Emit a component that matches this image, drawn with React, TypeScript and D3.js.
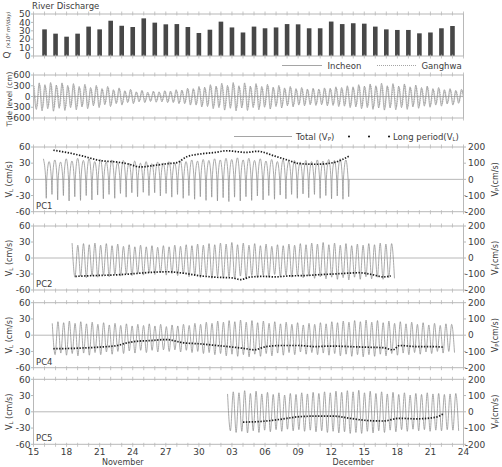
import React from "react";
import * as d3 from "d3";

// day index 0 = 15 November, 39 = 24 December
const dayTickLabels = ["15", "18", "21", "24", "27", "30", "03", "06", "09", "12", "15", "18", "21", "24"];
const monthLabels = ["November", "December"];
const monthCenters = [8.1, 29];

// river discharge (x10^6 m3/day), one bar per day, 16 Nov .. 23 Dec
const dischargeDay = d3.range(1, 39);
const discharge = [
  31.7, 26.6, 23, 26.6, 35, 31.7, 42, 36, 34.5, 44.8, 39.7, 37.7, 38, 34.5, 27.4, 31.3, 40.9, 34, 28,
  35, 33, 34, 38, 37.7, 33, 33, 41, 38, 39, 38.5, 35, 31.7, 31, 31, 27, 28, 33, 35.7,
];

// tide level (cm): successive high / low waters
const incheonHigh = [
  340, 380, 330, 390, 320, 380, 310, 360, 280, 340, 250, 310, 220, 280, 190, 240, 160, 200, 130, 170,
  120, 150, 130, 160, 150, 190, 180, 230, 220, 280, 260, 330, 290, 370, 310, 390, 300, 380, 290, 360,
  280, 340, 260, 310, 240, 280, 220, 250, 210, 230, 210, 240, 230, 270, 250, 300, 270, 330, 290, 350,
  300, 370, 300, 360, 290, 350, 270, 320, 250, 290, 220, 250, 190, 220, 170, 200,
];
const incheonLow = [
  -360, -400, -340, -410, -330, -390, -310, -370, -290, -340, -260, -310, -230, -280, -200, -240, -170, -200, -150, -170,
  -140, -160, -150, -170, -170, -200, -200, -240, -240, -290, -280, -340, -310, -380, -330, -400, -320, -390, -310, -370,
  -300, -350, -280, -320, -260, -290, -240, -260, -230, -250, -230, -260, -250, -280, -270, -310, -290, -340, -310, -360,
  -320, -380, -320, -370, -310, -360, -290, -330, -270, -300, -240, -270, -210, -240, -190, -210,
];
const ganghwaHigh = [
  290, 320, 280, 330, 270, 320, 260, 300, 240, 290, 210, 260, 190, 240, 160, 200, 140, 170, 110, 150,
  100, 130, 110, 140, 130, 160, 150, 200, 190, 240, 220, 280, 250, 310, 260, 330, 260, 320, 250, 300,
  240, 290, 220, 260, 200, 240, 190, 210, 180, 200, 180, 200, 200, 230, 210, 250, 230, 280, 250, 300,
  260, 310, 260, 300, 250, 300, 230, 270, 210, 250, 190, 210, 160, 190, 150, 170,
];
const ganghwaLow = [
  -280, -310, -270, -320, -260, -300, -240, -290, -230, -270, -200, -240, -180, -220, -160, -190, -140, -160, -120, -140,
  -110, -130, -120, -140, -140, -160, -160, -190, -190, -230, -220, -270, -250, -300, -260, -310, -250, -300, -240, -290,
  -240, -280, -220, -250, -210, -230, -190, -210, -180, -200, -180, -210, -200, -220, -210, -250, -230, -270, -250, -290,
  -250, -300, -250, -290, -240, -280, -230, -260, -210, -240, -190, -210, -170, -190, -150, -170,
];

// total current Vp (cm/s): successive flood peaks / ebb troughs
const pc1Peaks = [
  127, 110, 120, 107, 127, 113, 130, 117, 127, 110, 123, 107, 120, 103, 117, 100, 113, 100, 110, 97,
  107, 100, 110, 103, 113, 110, 120, 113, 123, 117, 127, 120, 130, 123, 133, 120, 130, 117, 127, 113,
  123, 110, 120, 110, 117, 107, 117, 110, 120, 113, 123, 117, 127, 120,
];
const pc1Troughs = [
  -117, -93, -127, -100, -133, -107, -130, -100, -127, -97, -120, -93, -117, -87, -110, -83, -107, -80, -100, -83,
  -103, -87, -110, -93, -117, -100, -123, -107, -130, -110, -133, -113, -137, -110, -133, -107, -130, -103, -127, -100,
  -123, -97, -120, -93, -117, -90, -113, -93, -117, -100, -120, -103, -123, -107,
];
const pc2Peaks = [
  93, 80, 90, 83, 93, 80, 90, 77, 87, 73, 83, 70, 80, 70, 77, 67, 77, 70, 80, 73,
  83, 77, 87, 80, 90, 83, 93, 87, 97, 83, 93, 80, 90, 77, 87, 73, 83, 77, 87, 80,
  90, 83, 93, 87, 97, 83, 93, 80, 90, 77, 87, 80, 90, 83, 93, 87, 90,
];
const pc2Troughs = [
  -120, -113, -123, -110, -120, -107, -117, -103, -113, -100, -110, -97, -107, -93, -103, -93, -107, -97, -110, -100,
  -117, -107, -123, -110, -127, -113, -127, -117, -130, -113, -127, -110, -123, -107, -120, -103, -117, -107, -120, -110,
  -123, -113, -127, -117, -130, -120, -133, -123, -137, -120, -133, -117, -130, -120, -133, -123, -127,
];
const pc4Peaks = [
  73, 83, 77, 87, 73, 83, 70, 80, 67, 77, 63, 73, 60, 70, 57, 67, 60, 70, 57, 67,
  53, 63, 57, 67, 60, 73, 67, 80, 73, 87, 80, 90, 83, 93, 80, 90, 77, 87, 73, 83,
  70, 80, 67, 77, 63, 73, 67, 77, 70, 83, 77, 87, 80, 90, 83, 93, 80, 90, 77, 87,
  73, 83, 70, 80, 67, 77, 63, 73, 60, 70, 67,
];
const pc4Troughs = [
  -120, -110, -123, -113, -127, -110, -123, -107, -120, -103, -117, -100, -113, -97, -110, -93, -107, -93, -103, -90,
  -100, -90, -103, -93, -107, -100, -113, -107, -120, -113, -127, -117, -130, -120, -133, -117, -130, -113, -127, -110,
  -123, -107, -120, -103, -117, -107, -120, -110, -123, -113, -127, -117, -130, -120, -133, -120, -130, -117, -127, -113,
  -123, -110, -120, -107, -117, -103, -113, -100, -110, -100, -107,
];
const pc5Peaks = [
  110, 123, 117, 130, 113, 127, 110, 120, 107, 117, 103, 113, 107, 117, 110, 120, 113, 123, 117, 127,
  120, 130, 123, 133, 117, 127, 113, 123, 110, 120, 107, 117, 103, 113, 107, 117, 110, 113, 107, 110, 113,
];
const pc5Troughs = [
  -117, -127, -120, -130, -117, -127, -113, -123, -110, -120, -107, -117, -110, -120, -113, -123, -117, -127, -120, -130,
  -123, -133, -127, -133, -120, -130, -117, -127, -113, -123, -110, -120, -107, -117, -110, -120, -113, -117, -110, -113, -117,
];

// long period current VL (cm/s)
const pc1VlDay = [1.8, 3, 4.5, 6, 7.6, 8.5, 9.7, 11, 12.1, 13, 13.9, 15.1, 16.5, 17.5, 19.3, 20.3, 21.9, 23, 24.2, 25.7, 27.2, 28.7];
const pc1Vl = [54, 50, 43, 35, 32, 29, 23, 26, 29, 31, 42, 47, 50, 53, 50, 52, 43, 36, 29, 28, 31, 44];
const pc2VlDay = [3.8, 5.5, 7.6, 9.1, 10.6, 12.1, 13.6, 15.2, 16.6, 18.1, 18.8, 19.6, 20.8, 21.9, 23.2, 24.5, 26, 27.2, 28.5, 29.5, 30.8, 31.7, 32.4];
const pc2Vl = [-34.5, -33, -31.5, -29.4, -27, -25.8, -28.5, -33.6, -36, -37.5, -40.5, -36, -34.5, -35.4, -33.6, -33, -31.2, -30, -28.5, -27.6, -31.5, -35.4, -33.6];
const pc4VlDay = [1.8, 4, 6, 7.6, 8.5, 9.5, 10.6, 12, 13.6, 15.1, 16.6, 18.1, 19.3, 20, 21.1, 22.6, 24, 25.6, 27, 28.6, 30, 31.7, 32.6, 33.2, 34.7, 36, 37.2];
const pc4Vl = [-25, -24, -22, -19, -14, -11, -10, -8, -14, -16, -19, -22, -25, -27, -21, -19, -19, -21, -20, -21, -22, -23, -27, -19, -21, -21, -22];
const pc5VlDay = [19, 20.5, 22, 23, 24.1, 25.5, 27.2, 28.7, 30.2, 31.7, 33.2, 34.7, 36.2, 36.8, 37.2];
const pc5Vl = [-19, -18, -15, -12, -9, -8, -8, -12, -16, -17, -12, -13, -11, -8, -3];

const leftTicks = [-60, -30, 0, 30, 60];
const rightTicks = [-200, -100, 0, 100, 200];
const tideTicks = [-600, -300, 0, 300, 600];
const qTicks = [0, 10, 20, 30, 40, 50];

// ---- layout ----
const W = 502, H = 467;
const X0 = 33.5, X1 = 463.5;
const PERIOD = 0.5175; // semidiurnal period (days)
const FONT = "'DejaVu Sans', Verdana, sans-serif";
const FRAME = "#b8b8b8";
const TXT = "#3c3c3c";
const OSC = "#8e8e8e";

const x = d3.scaleLinear().domain([0, 39]).range([X0, X1]);
const days = d3.range(0, 40);

// peaks and troughs placed half a period apart; "spiky" records (PC1) have a short ebb
// phase, so the slack-water crossings are placed close around each trough
function oscPoints(start: number, highs: number[], lows: number[], spiky = false) {
  const pts: [number, number][] = [];
  const n = Math.min(highs.length, lows.length);
  for (let i = 0; i < n; i++) {
    const t = start + i * PERIOD;
    pts.push([t, highs[i]]);
    if (spiky) {
      pts.push([t + 0.4 * PERIOD, 0]);
      pts.push([t + 0.5 * PERIOD, lows[i]]);
      pts.push([t + 0.58 * PERIOD, 0]);
    } else {
      pts.push([t + 0.5 * PERIOD, lows[i]]);
    }
  }
  return pts;
}

function DayTicks({ top, bottom }: { top: number; bottom: number }) {
  return (
    <g stroke={FRAME} strokeWidth={0.8}>
      {days.map((d) => (
        <g key={d}>
          <line x1={x(d)} x2={x(d)} y1={top - 2.5} y2={top + 1.5} />
          <line x1={x(d)} x2={x(d)} y1={bottom - 1.5} y2={bottom + 2.5} />
        </g>
      ))}
    </g>
  );
}

function LeftAxis({ scale, ticks }: { scale: d3.ScaleLinear<number, number>; ticks: number[] }) {
  return (
    <g>
      {ticks.map((t) => (
        <g key={t}>
          <line x1={X0 - 2.5} x2={X0} y1={scale(t)} y2={scale(t)} stroke={FRAME} />
          <text x={X0 - 3} y={scale(t)} dy="0.36em" textAnchor="end" fontSize={9} fill={TXT}>{String(t)}</text>
        </g>
      ))}
    </g>
  );
}

function RightAxis({ scale, ticks }: { scale: d3.ScaleLinear<number, number>; ticks: number[] }) {
  return (
    <g>
      {ticks.map((t) => (
        <g key={t}>
          <line x1={X1} x2={X1 + 2.5} y1={scale(t)} y2={scale(t)} stroke={FRAME} />
          <text x={X1 + 4.5 - (t < 0 ? 3.3 : 0)} y={scale(t)} dy="0.36em" textAnchor="start" fontSize={9} fill={TXT}>{String(t)}</text>
        </g>
      ))}
    </g>
  );
}

const pcPanels = [
  { name: "PC1", top: 147, bottom: 211.7, start: 0.9, spiky: true, peaks: pc1Peaks, troughs: pc1Troughs, vlDay: pc1VlDay, vl: pc1Vl },
  { name: "PC2", top: 226, bottom: 290, start: 3.5, spiky: false, peaks: pc2Peaks, troughs: pc2Troughs, vlDay: pc2VlDay, vl: pc2Vl },
  { name: "PC4", top: 302.7, bottom: 367.7, start: 1.7, spiky: false, peaks: pc4Peaks, troughs: pc4Troughs, vlDay: pc4VlDay, vl: pc4Vl },
  { name: "PC5", top: 379.3, bottom: 444.3, start: 17.6, spiky: false, peaks: pc5Peaks, troughs: pc5Troughs, vlDay: pc5VlDay, vl: pc5Vl },
];

function PcPanel({ p, last }: { p: (typeof pcPanels)[number]; last: boolean }) {
  const yl = d3.scaleLinear().domain([-60, 60]).range([p.bottom, p.top]);
  const yr = d3.scaleLinear().domain([-200, 200]).range([p.bottom, p.top]);
  const vp = d3.line<[number, number]>().x((d) => x(d[0])).y((d) => yr(d[1])).curve(d3.curveMonotoneX);
  const vlLine = d3.line<number>().x((_, i) => x(p.vlDay[i])).y((d) => yl(d)).curve(d3.curveMonotoneX);
  const mid = (p.top + p.bottom) / 2;
  const clipId = `clip-${p.name}`;
  return (
    <g>
      <clipPath id={clipId}>
        <rect x={X0} y={p.top} width={X1 - X0} height={p.bottom - p.top} />
      </clipPath>
      <line x1={X0} x2={X1} y1={yl(0)} y2={yl(0)} stroke="#b0b0b0" strokeWidth={0.9} />
      <g clipPath={`url(#${clipId})`}>
        <path d={vp(oscPoints(p.start, p.peaks, p.troughs, p.spiky)) || ""} fill="none" stroke={OSC} strokeWidth={0.75} />
        <path d={vlLine(p.vl) || ""} fill="none" stroke="#1e1e1e" strokeWidth={1.7} strokeDasharray="1.4 1.5" />
      </g>
      <rect x={X0} y={p.top} width={X1 - X0} height={p.bottom - p.top} fill="none" stroke={FRAME} />
      <DayTicks top={p.top} bottom={p.bottom} />
      <LeftAxis scale={yl} ticks={leftTicks} />
      <RightAxis scale={yr} ticks={rightTicks} />
      <text x={X0 + 2.5} y={p.bottom - 3} fontSize={8.5} fill={TXT}>{p.name}</text>
      <text transform={`translate(11.5,${mid}) rotate(-90)`} textAnchor="middle" fontSize={8} fill={TXT}>
        V<tspan fontSize={5.5} dy={1.5}>L</tspan><tspan dy={-1.5}> (cm/s)</tspan>
      </text>
      <text transform={`translate(497.5,${mid}) rotate(-90)`} textAnchor="middle" fontSize={8} fill={TXT}>
        V<tspan fontSize={5.5} dy={1.5}>P</tspan><tspan dy={-1.5}>(cm/s)</tspan>
      </text>
      {last && (
        <g>
          {dayTickLabels.map((lab, i) => (
            <text key={i} x={x(i * 3)} y={p.bottom + 11} textAnchor="middle" fontSize={9} fill={TXT}>{lab}</text>
          ))}
          {monthLabels.map((m, i) => (
            <text key={m} x={x(monthCenters[i])} y={465} textAnchor="middle" fontSize={8} fill={TXT}>{m}</text>
          ))}
        </g>
      )}
    </g>
  );
}

export default function App() {
  const qTop = 14, qBottom = 56;
  const yq = d3.scaleLinear().domain([0, 50]).range([qBottom, qTop]);
  const bw = 4.6;

  const tTop = 75, tBottom = 118;
  const yt = d3.scaleLinear().domain([-600, 600]).range([tBottom, tTop]);
  const tideLine = d3.line<[number, number]>().x((d) => x(d[0])).y((d) => yt(d[1])).curve(d3.curveMonotoneX);

  return (
    <svg width={W} height={H} viewBox={`0 0 ${W} ${H}`} style={{ position: "absolute", left: 0, top: 0, background: "#fff" }} fontFamily={FONT}>
      {/* River discharge */}
      <text x={32} y={9} fontSize={8.5} fill={TXT}>River Discharge</text>
      <g fill="#474747">
        {discharge.map((v, i) => (
          <rect key={i} x={x(dischargeDay[i]) - bw / 2} y={yq(v)} width={bw} height={yq(0) - yq(v)} />
        ))}
      </g>
      <rect x={X0} y={qTop} width={X1 - X0} height={qBottom - qTop} fill="none" stroke={FRAME} />
      <DayTicks top={qTop} bottom={qBottom} />
      <LeftAxis scale={yq} ticks={qTicks} />
      <text transform={`translate(9.5,35) rotate(-90)`} textAnchor="middle" fill={TXT}>
        <tspan fontSize={9}>Q </tspan>
        <tspan fontSize={5.2} fontStyle="italic">(×10⁶ m³/day)</tspan>
      </text>

      {/* legend: tide stations */}
      <line x1={282} x2={322} y1={65.5} y2={65.5} stroke={OSC} strokeWidth={0.8} />
      <text x={327.5} y={68.5} fontSize={8.5} fill={TXT}>Incheon</text>
      <line x1={377} x2={417} y1={65.5} y2={65.5} stroke={OSC} strokeWidth={0.8} strokeDasharray="1 1" />
      <text x={421.5} y={68.5} fontSize={8.5} fill={TXT}>Ganghwa</text>

      {/* Tide level */}
      <clipPath id="clip-tide">
        <rect x={X0} y={tTop} width={X1 - X0} height={tBottom - tTop} />
      </clipPath>
      <line x1={X0} x2={X1} y1={yt(0)} y2={yt(0)} stroke="#b0b0b0" strokeWidth={0.9} />
      <g clipPath="url(#clip-tide)" fill="none">
        <path d={tideLine(oscPoints(0.06, ganghwaHigh, ganghwaLow)) || ""} stroke="#a0a0a0" strokeWidth={0.7} strokeDasharray="1 0.8" />
        <path d={tideLine(oscPoints(0, incheonHigh, incheonLow)) || ""} stroke={OSC} strokeWidth={0.7} />
      </g>
      <rect x={X0} y={tTop} width={X1 - X0} height={tBottom - tTop} fill="none" stroke={FRAME} />
      <DayTicks top={tTop} bottom={tBottom} />
      <LeftAxis scale={yt} ticks={tideTicks} />
      <text transform={`translate(11.5,99) rotate(-90)`} textAnchor="middle" fontSize={7.4} fill={TXT}>Tide level (cm)</text>

      {/* legend: currents */}
      <line x1={234} x2={292} y1={136.5} y2={136.5} stroke={OSC} strokeWidth={0.8} />
      <text x={296} y={139.5} fontSize={8.5} fill={TXT}>
        Total (V<tspan fontSize={5.5} dy={1.5}>P</tspan><tspan dy={-1.5}>)</tspan>
      </text>
      <line x1={349} x2={390} y1={136.5} y2={136.5} stroke="#1e1e1e" strokeWidth={2.2} strokeLinecap="round" strokeDasharray="0.01 20" />
      <text x={393} y={139.5} fontSize={8.5} fill={TXT}>
        Long period(V<tspan fontSize={5.5} dy={1.5}>L</tspan><tspan dy={-1.5}>)</tspan>
      </text>

      {pcPanels.map((p, i) => (
        <PcPanel key={p.name} p={p} last={i === pcPanels.length - 1} />
      ))}
    </svg>
  );
}
